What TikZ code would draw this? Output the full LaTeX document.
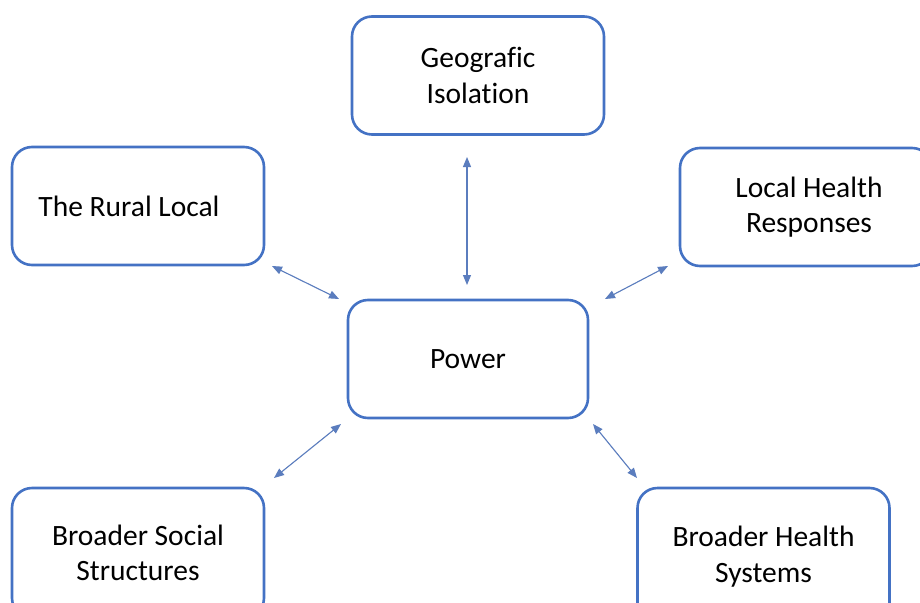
\documentclass[tikz,border=0pt]{standalone}
\usepackage{fontspec}
\setmainfont[Ligatures={NoCommon}]{Carlito}
\usetikzlibrary{arrows.meta}
\definecolor{boxblue}{HTML}{4472C4}
\definecolor{arrowblue}{HTML}{5B7DBE}
\tikzset{
  topic/.style={draw=boxblue, line width=2.6pt, rounded corners=20pt, fill=white,
    minimum width=252pt, minimum height=118pt, align=center, inner sep=0pt,
    font=\fontsize{29.5}{35.5}\selectfont, text=black},
  link/.style={draw=arrowblue, line width=1.1pt, {Triangle[length=10pt,width=8pt]}-{Triangle[length=10pt,width=8pt]}, fill=arrowblue}
}
\begin{document}
\begin{tikzpicture}[x=1pt,y=-1pt]
\useasboundingbox (0,0) rectangle (920,602);
\clip (0,0) rectangle (920,602);
\fill[white] (0,0) rectangle (920,602);
\node[topic] (geo) at (478,75.5) {Geografic\\Isolation};
\node[topic] (rural) at (138,206) {The Rural Local\hspace*{18pt}};
\node[topic] (lhr) at (806,207) {\hspace*{6pt}Local Health\\\hspace*{6pt}Responses};
\node[topic, minimum width=240pt] (power) at (468,359) {Power};
\node[topic, minimum height=130pt] (bss) at (138,553) {Broader Social\\Structures};
\node[topic, minimum height=137pt] (bhs) at (763.5,556.5) {Broader Health\\Systems};
\coordinate (g1) at (467,157); \coordinate (g2) at (467,285);
\coordinate (r1) at (272,266); \coordinate (r2) at (339,299);
\coordinate (l1) at (668,266); \coordinate (l2) at (605,299);
\coordinate (s1) at (274,478); \coordinate (s2) at (341,424);
\coordinate (h1) at (637,478); \coordinate (h2) at (593,424);
\draw[link] (g1) -- (g2);
\draw[link] (r1) -- (r2);
\draw[link] (l1) -- (l2);
\draw[link] (s1) -- (s2);
\draw[link] (h1) -- (h2);
\end{tikzpicture}
\end{document}
